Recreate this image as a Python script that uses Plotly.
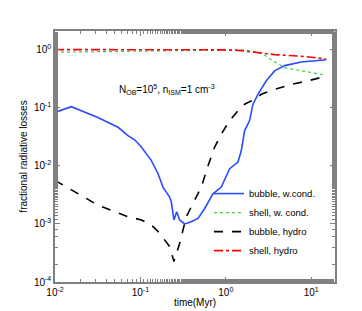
import plotly.graph_objects as go

# Data
t_bubble_cond = [0.01, 0.0155, 0.0318, 0.0418, 0.0547, 0.0716, 0.0857, 0.1026, 0.123, 0.134, 0.161, 0.184,
                 0.22, 0.23, 0.247, 0.266, 0.288, 0.33, 0.394, 0.473, 0.566, 0.708, 0.886, 1.01, 1.11, 1.39,
                 1.52, 1.66, 1.9, 2.08, 2.38, 2.98, 3.73, 4.9, 7.66, 15]
v_bubble_cond = [0.083, 0.104, 0.068, 0.056, 0.046, 0.033, 0.028, 0.021, 0.015, 0.0124, 0.0073, 0.0043,
                 0.0029, 0.0024, 0.00117, 0.00162, 0.00117, 0.001, 0.00109, 0.00124, 0.00184, 0.0033, 0.0043,
                 0.0064, 0.0089, 0.0116, 0.0183, 0.040, 0.06, 0.115, 0.17, 0.29, 0.43, 0.53, 0.61, 0.67]

t_shell_cond = [0.01, 0.03, 0.1, 0.3, 1.0, 1.66, 2.6, 3.4, 4.9, 7.66, 15]
v_shell_cond = [0.90, 0.92, 0.95, 0.98, 1.0, 0.99, 0.88, 0.67, 0.49, 0.43, 0.36]

t_bubble_hydro = [0.01, 0.0203, 0.0318, 0.05, 0.0716, 0.1026, 0.134, 0.161, 0.193, 0.22, 0.247, 0.288,
                  0.345, 0.413, 0.517, 0.62, 0.741, 0.886, 1.11, 1.39, 1.66, 2.18, 2.6, 3.73, 5.85, 9.2, 15]
v_bubble_hydro = [0.0056, 0.0031, 0.0021, 0.00162, 0.00133, 0.00117, 0.00096, 0.00074, 0.00053, 0.00041,
                  0.000226, 0.00046, 0.00133, 0.0022, 0.0043, 0.0100, 0.021, 0.035, 0.06, 0.0885, 0.115,
                  0.14, 0.17, 0.207, 0.252, 0.29, 0.35]

t_shell_hydro = [0.01, 0.1, 0.5, 1.0, 1.5, 1.98, 3.73, 7.66, 15]
v_shell_hydro = [1.0, 1.0, 1.0, 0.99, 0.96, 0.91, 0.82, 0.77, 0.69]

series_names = ["bubble, w.cond.", "shell, w. cond.", "bubble, hydro", "shell, hydro"]

x_tickvals = [0.01, 0.1, 1, 10]
x_ticktext = ["10<sup>-2</sup>", "10<sup>-1</sup>", "10<sup>0</sup>", "10<sup>1</sup>"]
y_tickvals = [1e-4, 1e-3, 1e-2, 1e-1, 1]
y_ticktext = ["10<sup>-4</sup>", "10<sup>-3</sup>", "10<sup>-2</sup>", "10<sup>-1</sup>", "10<sup>0</sup>"]

FONT = "Liberation Sans, Arial, sans-serif"

fig = go.Figure()
fig.add_trace(go.Scatter(x=t_bubble_cond, y=v_bubble_cond, mode="lines", name=series_names[0],
                         line=dict(color="#2a4bff", width=1.6)))
fig.add_trace(go.Scatter(x=t_shell_cond, y=v_shell_cond, mode="lines", name=series_names[1],
                         line=dict(color="#44cc44", width=1.2, dash="dot")))
fig.add_trace(go.Scatter(x=t_bubble_hydro, y=v_bubble_hydro, mode="lines", name=series_names[2],
                         line=dict(color="black", width=1.6, dash="dash")))
fig.add_trace(go.Scatter(x=t_shell_hydro, y=v_shell_hydro, mode="lines", name=series_names[3],
                         line=dict(color="red", width=1.6, dash="dashdot")))

axis_common = dict(
    type="log", showgrid=False, zeroline=False, showline=True, linecolor="#808080", linewidth=1.5,
    mirror="allticks", ticks="inside", ticklen=5, tickcolor="#808080",
    tickfont=dict(family=FONT, size=10, color="black"),
    minor=dict(ticks="inside", ticklen=3, tickcolor="#808080", showgrid=False),
)

fig.update_xaxes(**axis_common, range=[-2, 1.279], tickmode="array", tickvals=x_tickvals, ticktext=x_ticktext,
                 title=dict(text="time(Myr)", font=dict(family=FONT, size=10, color="black"), standoff=2))
fig.update_yaxes(**axis_common, range=[-4, 0.32], tickmode="array", tickvals=y_tickvals, ticktext=y_ticktext,
                 title=dict(text="fractional radiative losses", font=dict(family=FONT, size=10, color="black"), standoff=4))

fig.add_annotation(text="N<sub>OB</sub>=10<sup>5</sup>, n<sub>ISM</sub>=1 cm<sup>-3</sup>",
                   xref="paper", yref="paper", x=0.40, y=0.80, showarrow=False,
                   font=dict(family=FONT, size=10, color="black"))

fig.update_layout(
    width=362, height=311,
    margin=dict(l=47, r=35, t=23, b=35),
    paper_bgcolor="white", plot_bgcolor="white",
    showlegend=True,
    legend=dict(x=0.55, y=0.41, xanchor="left", yanchor="top", bgcolor="rgba(0,0,0,0)",
                font=dict(family=FONT, size=9.5, color="black"), tracegroupgap=0, itemwidth=30),
)

fig.write_html("out.html")
